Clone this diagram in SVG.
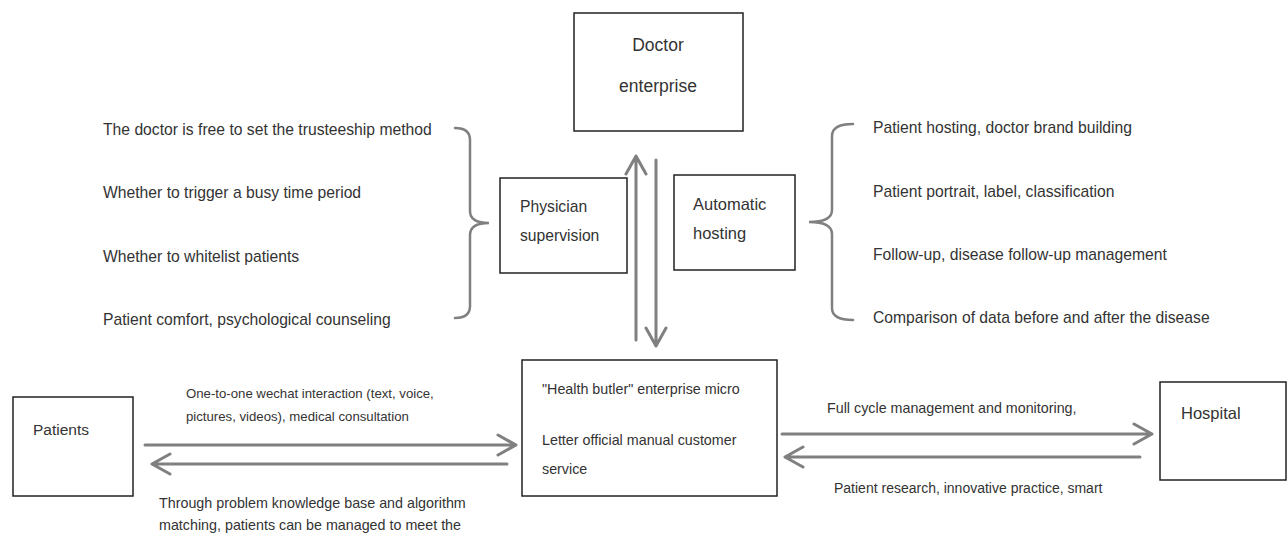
<svg xmlns="http://www.w3.org/2000/svg" width="1287" height="534" viewBox="0 0 1287 534">
<style>
.box{fill:#fff;stroke:#222;stroke-width:1.5}
.t{font-family:"Liberation Sans",Arial,sans-serif;fill:#333}
.n{font-size:15.7px}
.s{font-size:13.2px}
.m{font-size:14.3px}
.c{fill:none;stroke:#808080;stroke-width:3;stroke-linecap:round;stroke-linejoin:round}
.br{fill:none;stroke:#808080;stroke-width:2.5;stroke-linecap:round}
</style>
<rect width="1287" height="534" fill="#fff"/>
<g id="doctor">
<rect class="box" x="574" y="13" width="169" height="118"/>
<text class="t" x="658" y="51" text-anchor="middle" font-size="17.5">Doctor</text>
<text class="t" x="658" y="92" text-anchor="middle" font-size="17.5">enterprise</text>
</g>
<g id="physician">
<rect class="box" x="500" y="178" width="127" height="95"/>
<text class="t n" x="520" y="212">Physician</text>
<text class="t n" x="520" y="241">supervision</text>
</g>
<g id="automatic">
<rect class="box" x="674" y="175" width="121" height="95"/>
<text class="t" font-size="16.5" x="693" y="210">Automatic</text>
<text class="t" font-size="16.5" x="693" y="239">hosting</text>
</g>
<g id="physician-items">
<text class="t n" x="103" y="135">The doctor is free to set the trusteeship method</text>
<text class="t n" x="103" y="198">Whether to trigger a busy time period</text>
<text class="t n" x="103" y="262">Whether to whitelist patients</text>
<text class="t n" x="103" y="325">Patient comfort, psychological counseling</text>
<path class="br" d="M455,128 Q470,128 470,140 L470,211 Q470,223 489,223 Q470,223 470,235 L470,306 Q470,318 455,318"/>
</g>
<g id="automatic-items">
<text class="t n" x="873" y="133">Patient hosting, doctor brand building</text>
<text class="t n" x="873" y="197">Patient portrait, label, classification</text>
<text class="t n" x="873" y="260">Follow-up, disease follow-up management</text>
<text class="t n" x="873" y="323">Comparison of data before and after the disease</text>
<path class="br" d="M853,124 Q832,124 832,136 L832,210 Q832,222 809,222 Q832,222 832,234 L832,308 Q832,320 853,320"/>
</g>
<g id="patients">
<rect class="box" x="13" y="397" width="120" height="99"/>
<text class="t" font-size="15.5" x="33" y="435">Patients</text>
</g>
<g id="health">
<rect class="box" x="522" y="360" width="255" height="136"/>
<text class="t m" x="542" y="394">"Health butler" enterprise micro</text>
<text class="t m" x="542" y="445">Letter official manual customer</text>
<text class="t m" x="542" y="474">service</text>
</g>
<g id="hospital">
<rect class="box" x="1160" y="382" width="126" height="98"/>
<text class="t" font-size="16.5" x="1181" y="419">Hospital</text>
</g>
<g id="connectors">
<path class="c" d="M636,340 L636,156 M626,174 L636,156 L646,174"/>
<path class="c" d="M656,160 L656,346 M646,328 L656,346 L666,328"/>
<path class="c" d="M145,445 L516,445 M498,435 L516,445 L498,455"/>
<path class="c" d="M507,464 L152,464 M170,454 L152,464 L170,474"/>
<path class="c" d="M782,434 L1152,434 M1134,424 L1152,434 L1134,444"/>
<path class="c" d="M1140,457 L785,457 M803,447 L785,457 L803,467"/>
<text class="t s" x="186" y="398">One-to-one wechat interaction (text, voice,</text>
<text class="t s" x="186" y="421">pictures, videos), medical consultation</text>
<text class="t m" x="159" y="508">Through problem knowledge base and algorithm</text>
<text class="t m" x="159" y="530">matching, patients can be managed to meet the</text>
<text class="t m" x="827" y="413">Full cycle management and monitoring,</text>
<text class="t" font-size="14" x="834" y="493">Patient research, innovative practice, smart</text>
</g>
</svg>
